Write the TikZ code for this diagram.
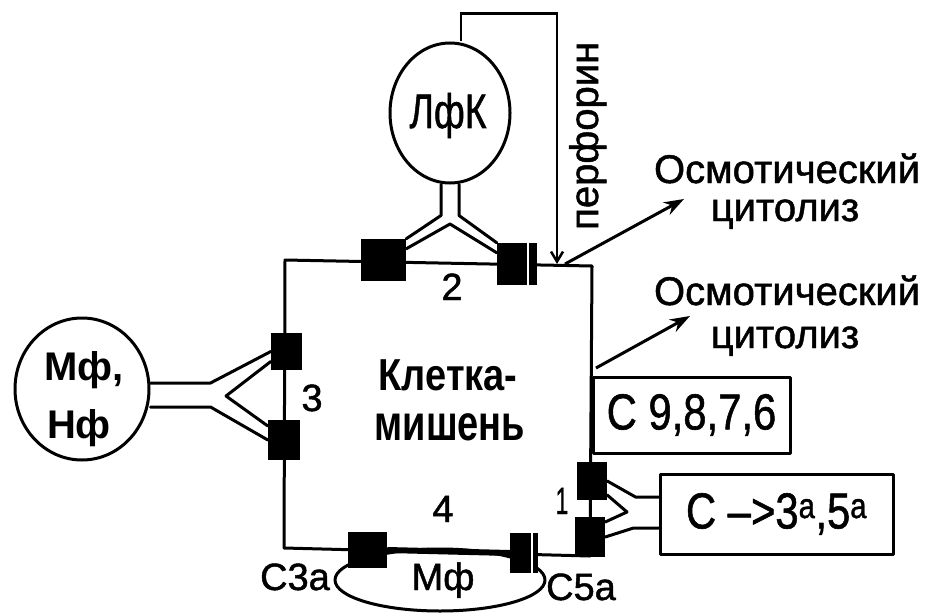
\documentclass[tikz,border=0pt]{standalone}
\usepackage{fontspec}
\setmainfont{Liberation Sans}
\newfontfamily\medsans{Liberation Sans}[FakeBold=1.2]
\usetikzlibrary{arrows.meta,shapes.geometric}
\begin{document}
\begin{tikzpicture}[x=1pt,y=-1pt,
  ln/.style={line width=3pt, line join=round},
  yl/.style={line width=3pt, line join=round, line cap=round},
  rec/.style={fill=black, draw=none, inner sep=0pt},
  stripe/.style={draw=white, line width=2pt},
  txt/.style={inner sep=0pt, anchor=base},
  arr/.style={line width=3pt, -{Stealth[length=20pt,width=14pt]}},
  perf/.style={line width=2.5pt, -{Straight Barb[length=10pt,width=12pt]}},
  fA/.style={font=\medsans\fontsize{40}{44}\selectfont},
  fB/.style={font=\medsans\fontsize{38}{42}\selectfont},
  fC/.style={font=\medsans\fontsize{44}{48}\selectfont},
  fD/.style={font=\bfseries\fontsize{40}{44}\selectfont}
]
\useasboundingbox[fill=white] (0,0) rectangle (933,615);

% circles
\node[draw, ln, ellipse, minimum width=120pt, minimum height=140pt, inner sep=0pt] (lfk) at (450,113) {};
\node[txt, fC] (lfkt) at (448,128) {\scalebox{0.85}[1.1]{ЛфК}};
\node[draw, ln, ellipse, minimum width=134pt, minimum height=142pt, inner sep=0pt] (mfnf) at (82,389) {};
\node[txt, fD] (mfnft1) at (84,380) {Мф,};
\node[txt, fD] (mfnft2) at (79,438) {Нф};

% bottom ellipse
\node[draw, ln, ellipse, minimum width=210pt, minimum height=62pt, inner sep=0pt] (mfe) at (440,580) {};
\node[txt, fB] (mfet) at (443,590) {Мф};

% target cell
\coordinate (tl) at (285,260);
\coordinate (tr) at (592,266);
\coordinate (br) at (590,556);
\coordinate (bl) at (284,548);
\draw[ln] (tl) -- (tr) -- (br) -- (bl) -- cycle;

% boxes
\node[draw, ln, fill=white, minimum width=197pt, minimum height=76pt, inner sep=0pt, fC] (b1) at (691.5,415) {\scalebox{0.95}[1.15]{С 9,8,7,6}};
\node[draw, ln, fill=white, minimum width=233pt, minimum height=80pt, inner sep=0pt, fC] (b2) at (776.5,514) {\scalebox{0.95}[1.15]{С –>3\textsuperscript{а},5\textsuperscript{а}}};

% receptors
\node[rec, minimum width=45pt, minimum height=42pt] (r2a) at (383.5,260) {};
\node[rec, minimum width=40pt, minimum height=42pt] (r2b) at (517,264) {};
\node[rec, minimum width=31pt, minimum height=37pt] (r3a) at (286.5,351.5) {};
\node[rec, minimum width=32pt, minimum height=40pt] (r3b) at (284,440) {};
\node[rec, minimum width=39pt, minimum height=36pt] (r4a) at (367.5,550) {};
\node[rec, minimum width=28pt, minimum height=40pt] (r4b) at (524,553) {};
\node[rec, minimum width=30pt, minimum height=38pt] (r1a) at (592,481) {};
\node[rec, minimum width=30pt, minimum height=40pt] (r1b) at (590,537) {};
\draw[stripe] ([xshift=-9pt]r2b.north east) -- ([xshift=-9pt]r2b.south east);
\draw[stripe] ([xshift=-6pt]r4b.north east) -- ([xshift=-6pt]r4b.south east);
\draw[line width=6pt] (r4a.east) -- (r4b.west);

% Y connectors: LfK
\coordinate (tv) at (450,224);
\draw[yl] ([xshift=-9pt]lfk.south) -- ++(0,31) -- (r2a.north east);
\draw[yl] ([xshift=9pt]lfk.south) -- ++(0,31) -- (r2b.north west);
\draw[yl] ([yshift=-10pt]r2a.north east) -- (tv) -- ([yshift=-10pt]r2b.north west);

% Y connectors: Mf,Nf
\coordinate (lv) at (226,396);
\draw[yl] ([yshift=6pt]mfnf.east) -- ++(60,0) -- (r3a.west);
\draw[yl] ([yshift=-18pt]mfnf.east) -- ++(60,0) -- (r3b.west);
\draw[yl] ([yshift=-10pt]r3a.west) -- (lv) -- ([yshift=14pt]r3b.west);

% Y connectors: box C
\coordinate (rv) at (627,512);
\draw[yl] ([yshift=17pt]b2.west) -- ++(-23,0) -- (r1a.east);
\draw[yl] ([yshift=-14pt]b2.west) -- ++(-25,0) -- (r1b.east);
\draw[yl] ([yshift=-14pt]r1a.east) -- (rv) -- ([yshift=15pt]r1b.east);

% perforin
\coordinate (perfend) at (557,264);
\draw[perf] ([xshift=11pt]lfk.north) -- ++(0,-28) -| (perfend);
\node[txt, fA, rotate=90, anchor=base west] (perft) at (598,230) {перфорин};

% osmotic arrows
\coordinate (a1s) at (565,264);
\coordinate (a1e) at (684,199);
\coordinate (a2s) at (596,368);
\coordinate (a2e) at (690,316);
\draw[arr] (a1s) -- (a1e);
\draw[arr] (a2s) -- (a2e);
\node[txt, fA] (o1a) at (787,183) {Осмотический};
\node[txt, fA] (o1b) at (785,221) {цитолиз};
\node[txt, fA] (o2a) at (787,305) {Осмотический};
\node[txt, fA] (o2b) at (785,348) {цитолиз};

% labels
\node[txt, fD] (k1) at (448,390) {\scalebox{0.95}[1.12]{Клетка-}};
\node[txt, fD] (k2) at (450,440) {\scalebox{0.95}[1.25]{мишень}};
\node[txt, fB] (n2) at (452,300) {2};
\node[txt, fB] (n3) at (312,411) {3};
\node[txt, fB] (n4) at (443,522) {4};
\node[txt, fB] (n1) at (562,514) {\scalebox{0.6}[1]{1}};
\node[txt, fB] (c3a) at (295,590) {С3а};
\node[txt, fB] (c5a) at (581,600) {С5а};
\end{tikzpicture}
\end{document}
